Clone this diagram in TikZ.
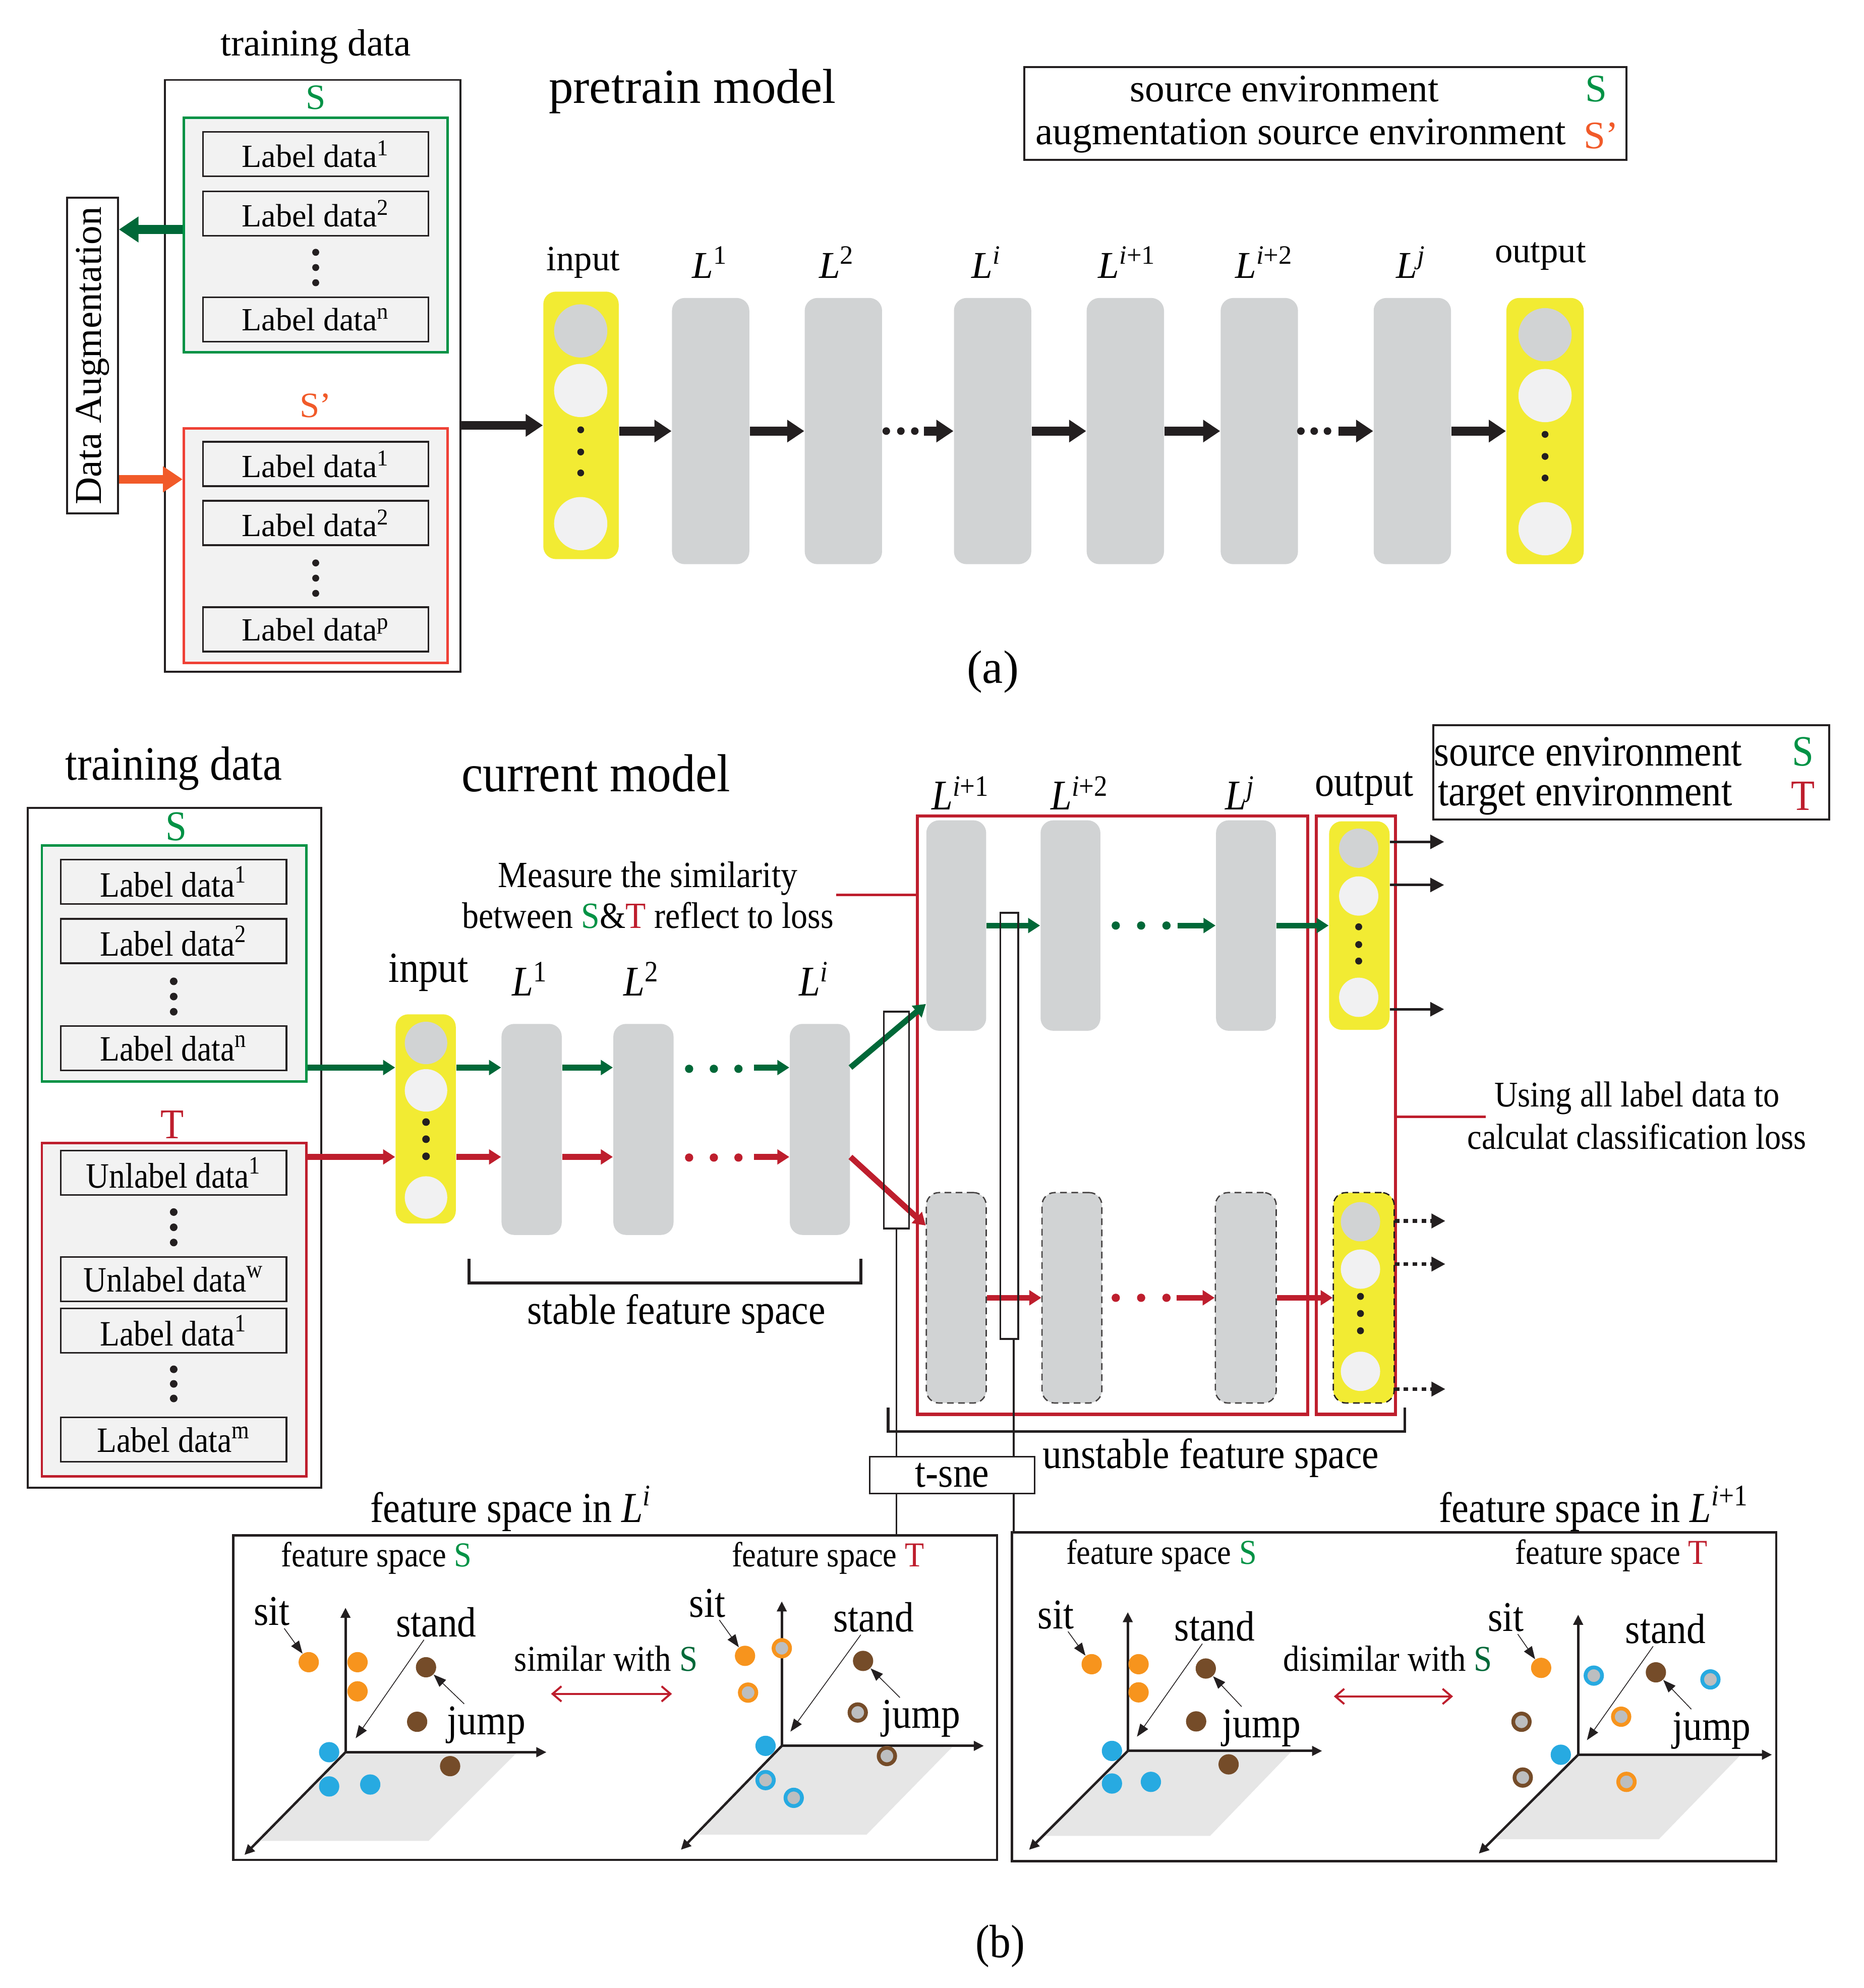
\documentclass[tikz,border=0pt]{standalone}
\usepackage{fontspec}
\setmainfont{Liberation Serif}
\newfontfamily\condfont[FakeStretch=0.9]{Liberation Serif}
\usepackage{tikz}
\usetikzlibrary{arrows.meta,positioning}

\definecolor{ink}{HTML}{231F20}
\definecolor{sgreen}{HTML}{009245}
\definecolor{dgreen}{HTML}{006838}
\definecolor{tred}{HTML}{BE1E2D}
\definecolor{sorange}{HTML}{F15A29}
\definecolor{boxred}{HTML}{EF4136}
\definecolor{layergray}{HTML}{D1D3D4}
\definecolor{cellwhite}{HTML}{F1F1F2}
\definecolor{boxfill}{HTML}{F2F2F2}
\definecolor{nnyellow}{HTML}{F2EB33}
\definecolor{dotorange}{HTML}{F7941D}
\definecolor{dotbrown}{HTML}{754C29}
\definecolor{dotblue}{HTML}{27AAE1}
\definecolor{ringgray}{HTML}{BCBEC0}
\definecolor{planegray}{HTML}{E6E6E6}

\begin{document}
\begin{tikzpicture}[
    x=0.02cm, y=-0.02cm,
    txta/.style={font=\fontsize{17}{20}\selectfont, inner sep=1pt},
    txtb/.style={font=\condfont\fontsize{19}{22}\selectfont, inner sep=1pt},
    outerbox/.style={draw=ink, line width=0.9pt, inner sep=0},
    grp/.style={draw=#1, fill=boxfill, line width=1.1pt, inner sep=0, minimum width=4.16cm},
    lbox/.style={draw=ink, fill=boxfill, line width=0.8pt, inner sep=0, minimum width=3.56cm, minimum height=0.70cm},
    lboxa/.style={lbox, font=\fontsize{14.5}{16}\selectfont},
    lboxb/.style={lbox, font=\condfont\fontsize{16}{18}\selectfont},
    nnlayer/.style={fill=layergray, rounded corners=0.2cm, inner sep=0},
    ghost/.style={nnlayer, draw=ink!85, densely dashed, line width=0.6pt},
    nncol/.style={fill=nnyellow, rounded corners=0.2cm, inner sep=0},
    unit/.style={circle, inner sep=0, minimum size=#1},
    bigarrow/.style={draw=ink, line width=4pt, -{Triangle[length=0.27cm, width=0.34cm]}},
    flow/.style={line width=2.6pt, -{Triangle[length=0.19cm, width=0.23cm]}},
    outarrow/.style={draw=ink, line width=1.2pt, -{Triangle[length=0.22cm, width=0.22cm]}},
    blob/.style={circle, fill=#1, inner sep=0, minimum size=0.32cm},
    ring/.style={circle, draw=#1, fill=ringgray, line width=1.7pt, inner sep=0, minimum size=0.26cm},
    plotaxis/.style={draw=ink, line width=1.1pt, -{Triangle[length=0.16cm, width=0.15cm]}},
    pointer/.style={draw=ink, line width=0.35pt, -{Triangle[length=0.2cm, width=0.15cm]}},
    plabel/.style={font=\condfont\fontsize{19}{22}\selectfont, inner sep=1pt},
    simarrow/.style={draw=tred, line width=0.9pt, {Straight Barb[length=0.14cm, width=0.24cm]}-{Straight Barb[length=0.14cm, width=0.24cm]}}
]
    \useasboundingbox (0,0) rectangle (1470,1568);

    % (a) training data
    \node[txta] (traina) at (249,37) {training data};
    \node[outerbox, minimum width=4.66cm, minimum height=9.34cm] (tda) at (246.5,296.5) {};
    \node[txta, text=sgreen, font=\fontsize{16}{18}\selectfont] (sa) at (249,77) {S};
    \node[grp=sgreen, minimum height=3.70cm] (srcA) at (249,185.5) {};
    \node[lboxa] (la1) at (249,121.5) {Label data\textsuperscript{1}};
    \node[lboxa] (la2) at (249,168.5) {Label data\textsuperscript{2}};
    \node[lboxa] (lan) at (249,252) {Label data\textsuperscript{n}};
    \foreach \y in {199,211,223} \fill[ink] (249,\y) circle[radius=0.055cm];
    \node[txta, text=sorange, font=\fontsize{16}{18}\selectfont] (spa) at (249,320) {S’};
    \node[grp=boxred, minimum height=3.70cm] (augS) at (249,430.5) {};
    \node[lboxa] (lp1) at (249,366) {Label data\textsuperscript{1}};
    \node[lboxa] (lp2) at (249,412.5) {Label data\textsuperscript{2}};
    \node[lboxa] (lpp) at (249,496.5) {Label data\textsuperscript{p}};
    \foreach \y in {444,456,468} \fill[ink] (249,\y) circle[radius=0.055cm];

    % data augmentation
    \node[outerbox, minimum width=0.8cm, minimum height=4.98cm] (aug) at (73,280.5) {};
    \node[txta, rotate=90] (augtxt) at (aug.center) {Data Augmentation};
    \draw[dgreen, line width=4pt, -{Triangle[length=0.31cm, width=0.39cm]}] ([yshift=0.09cm]srcA.west) -- ([yshift=0.09cm]srcA.west -| aug.east);
    \draw[sorange, line width=4pt, -{Triangle[length=0.31cm, width=0.39cm]}] ([yshift=-0.82cm]aug.east |- augS.north west) -- ([yshift=-0.82cm]augS.north west);

    % pretrain network
    \node[txta, font=\fontsize{22}{24}\selectfont] (pretrain) at (546,72) {pretrain model};
    \node[nncol, minimum width=1.19cm, minimum height=4.22cm] (ina) at (458.25,335.5) {};
    \node[unit=0.84cm, fill=layergray] (ina1) at (458,261) {};
    \node[unit=0.84cm, fill=cellwhite] (ina2) at (458,308) {};
    \node[unit=0.84cm, fill=cellwhite] (ina3) at (458,413) {};
    \foreach \y in {339,356.5,373} \fill[ink] (458,\y) circle[radius=0.054cm];
    \node[nnlayer, minimum width=1.22cm, minimum height=4.2cm] (l1a) at (560.5,340) {};
    \node[nnlayer, minimum width=1.22cm, minimum height=4.2cm, right=0.86cm of l1a] (l2a) {};
    \node[nnlayer, minimum width=1.22cm, minimum height=4.2cm, right=1.12cm of l2a] (lia) {};
    \node[nnlayer, minimum width=1.22cm, minimum height=4.2cm, right=0.86cm of lia] (li1a) {};
    \node[nnlayer, minimum width=1.22cm, minimum height=4.2cm, right=0.88cm of li1a] (li2a) {};
    \node[nnlayer, minimum width=1.22cm, minimum height=4.2cm, right=1.18cm of li2a] (lja) {};
    \node[nncol, minimum width=1.22cm, minimum height=4.2cm, right=0.86cm of lja] (outa) {};
    \node[unit=0.84cm, fill=layergray] (outa1) at (outa |- 0,264) {};
    \node[unit=0.84cm, fill=cellwhite] (outa2) at (outa |- 0,312) {};
    \node[unit=0.84cm, fill=cellwhite] (outa3) at (outa |- 0,417) {};
    \foreach \y in {342.6,360,377} \fill[ink] (outa |- 0,\y) circle[radius=0.054cm];

    \node[txta, font=\fontsize{16}{18}\selectfont] (inalab) at (460,207) {input};
    \node[txta, font=\fontsize{17}{19}\selectfont] (l1alab) at (560,207) {\textit{L}\textsuperscript{1}};
    \node[txta, font=\fontsize{17}{19}\selectfont] (l2alab) at (660,207) {\textit{L}\textsuperscript{2}};
    \node[txta, font=\fontsize{17}{19}\selectfont] (lialab) at (778,207) {\textit{L}\textsuperscript{\textit{i}}};
    \node[txta, font=\fontsize{17}{19}\selectfont] (li1alab) at (889,207) {\textit{L}\textsuperscript{\textit{i}+1}};
    \node[txta, font=\fontsize{17}{19}\selectfont] (li2alab) at (997,207) {\textit{L}\textsuperscript{\textit{i}+2}};
    \node[txta, font=\fontsize{17}{19}\selectfont] (ljalab) at (1113,207) {\textit{L}\textsuperscript{\textit{j}}};
    \node[txta, font=\fontsize{16}{18}\selectfont] (outalab) at (1215,202) {output};

    \draw[bigarrow] (tda.east |- ina.west) -- (ina.west);
    \draw[bigarrow] (ina.east |- l1a.west) -- (l1a.west);
    \draw[bigarrow] (l1a.east) -- (l2a.west);
    \foreach \x in {699,710.5,721.5} \fill[ink] (\x,340) circle[radius=0.06cm];
    \draw[bigarrow] ([xshift=-0.47cm]lia.west) -- (lia.west);
    \draw[bigarrow] (lia.east) -- (li1a.west);
    \draw[bigarrow] (li1a.east) -- (li2a.west);
    \foreach \x in {1026,1036.5,1047} \fill[ink] (\x,340) circle[radius=0.06cm];
    \draw[bigarrow] ([xshift=-0.55cm]lja.west) -- (lja.west);
    \draw[bigarrow] (lja.east) -- (outa.west);

    % legend (a)
    \node[outerbox, minimum width=9.5cm, minimum height=1.46cm] (lega) at (1045.5,89.5) {};
    \node[txta, font=\fontsize{17.5}{20}\selectfont] (srcenva) at (1013,70) {source environment};
    \node[txta, font=\fontsize{17.5}{20}\selectfont] (augenva) at (1026,107) {augmentation source environment};
    \node[txta, font=\fontsize{17.5}{20}\selectfont, text=sgreen] (legsa) at (1259,70) {S};
    \node[txta, font=\fontsize{17.5}{20}\selectfont, text=sorange] (legspa) at (1263,107) {S’};
    \node[txta, font=\fontsize{21}{24}\selectfont] (capa) at (783,530) {(a)};

    % (b) training data
    \node[txtb, font=\condfont\fontsize{21.5}{24}\selectfont] (trainb) at (137,606) {training data};
    \node[outerbox, minimum width=4.63cm, minimum height=10.73cm] (tdb) at (137.75,905.3) {};
    \node[txtb, text=sgreen] (sb) at (139,652) {S};
    \node[grp=sgreen, minimum width=4.17cm, minimum height=3.72cm] (srcB) at (137.25,760) {};
    \node[lboxb] (lb1) at (137,695.5) {Label data\textsuperscript{1}};
    \node[lboxb] (lb2) at (137,742.2) {Label data\textsuperscript{2}};
    \node[lboxb] (lbn) at (137,826.8) {Label data\textsuperscript{n}};
    \foreach \y in {774,786,798} \fill[ink] (137,\y) circle[radius=0.06cm];
    \node[txtb, text=tred] (tb) at (136,887) {T};
    \node[grp=tred, minimum width=4.17cm, minimum height=5.26cm] (tgtB) at (137.25,1033) {};
    \node[lboxb] (ub1) at (137,925) {Unlabel data\textsuperscript{1}};
    \node[lboxb] (ubw) at (137,1009) {Unlabel data\textsuperscript{w}};
    \node[lboxb] (lt1) at (137,1049.5) {Label data\textsuperscript{1}};
    \node[lboxb] (ltm) at (137,1135.5) {Label data\textsuperscript{m}};
    \foreach \y in {956,968,980,1080,1091.5,1103} \fill[ink] (137,\y) circle[radius=0.06cm];

    % current network, stable part
    \node[txtb, font=\condfont\fontsize{24}{26}\selectfont] (current) at (470,610) {current model};
    \coordinate (grow) at (0,842);
    \coordinate (rrow) at (0,912.5);
    \node[nncol, minimum width=0.95cm, minimum height=3.30cm] (inb) at (335.75,882.5) {};
    \node[unit=0.67cm, fill=layergray] (inb1) at (336,822.6) {};
    \node[unit=0.67cm, fill=cellwhite] (inb2) at (336,860) {};
    \node[unit=0.67cm, fill=cellwhite] (inb3) at (336,944.5) {};
    \foreach \y in {885,898.5,912} \fill[ink] (336,\y) circle[radius=0.06cm];
    \node[nnlayer, minimum width=0.95cm, minimum height=3.33cm] (l1b) at (419.3,890.8) {};
    \node[nnlayer, minimum width=0.95cm, minimum height=3.33cm, right=0.8cm of l1b] (l2b) {};
    \node[nnlayer, minimum width=0.95cm, minimum height=3.33cm, right=1.82cm of l2b] (lib) {};
    \node[txtb, font=\condfont\fontsize{19.3}{22}\selectfont] (inblab) at (338,767) {input};
    \node[txtb] (l1blab) at (418,772) {\textit{L}\textsuperscript{1}};
    \node[txtb] (l2blab) at (506,772) {\textit{L}\textsuperscript{2}};
    \node[txtb] (liblab) at (642,772) {\textit{L}\textsuperscript{\textit{i}}};

    \draw[flow, dgreen] (srcB.east |- grow) -- (inb.west |- grow);
    \draw[flow, tred] (tgtB.east |- rrow) -- (inb.west |- rrow);
    \draw[flow, dgreen] (inb.east |- grow) -- (l1b.west |- grow);
    \draw[flow, tred] (inb.east |- rrow) -- (l1b.west |- rrow);
    \draw[flow, dgreen] (l1b.east |- grow) -- (l2b.west |- grow);
    \draw[flow, tred] (l1b.east |- rrow) -- (l2b.west |- rrow);
    \foreach \x in {543.5,563,582.4} {
        \fill[dgreen] (\x,843) circle[radius=0.065cm];
        \fill[tred] (\x,913) circle[radius=0.065cm];
    }
    \draw[flow, dgreen] ([xshift=-0.56cm]lib.west |- grow) -- (lib.west |- grow);
    \draw[flow, tred] ([xshift=-0.56cm]lib.west |- rrow) -- (lib.west |- rrow);

    \draw[ink, line width=1.3pt] (370,993) -- (370,1012) -- (679,1012) -- (679,993);
    \node[txtb] (stable) at (533.5,1036) {stable feature space};

    \node[txtb, align=center, font=\condfont\fontsize{16.6}{18.2}\selectfont] (measure) at (511,706) {Measure the similarity\\between \textcolor{sgreen}{S}\&\textcolor{tred}{T} reflect to loss};

    % unstable part
    \node[draw=tred, line width=1.4pt, inner sep=0, minimum width=6.16cm, minimum height=9.44cm] (stackR) at (877.55,879.55) {};
    \node[draw=tred, line width=1.4pt, inner sep=0, minimum width=1.25cm, minimum height=9.44cm] (outR) at (1069.25,879.55) {};
    \draw[tred, line width=1.1pt] (measure.east) -- (stackR.west |- measure.east);

    \node[nnlayer, minimum width=0.944cm, minimum height=3.32cm] (li1u) at (754.2,730) {};
    \node[nnlayer, minimum width=0.944cm, minimum height=3.32cm, right=0.844cm of li1u] (li2u) {};
    \node[nnlayer, minimum width=0.944cm, minimum height=3.32cm, right=1.81cm of li2u] (lju) {};
    \node[nncol, minimum width=0.954cm, minimum height=3.29cm, right=0.826cm of lju] (outu) {};
    \node[unit=0.62cm, fill=layergray] (outu1) at (1071.6,669) {};
    \node[unit=0.62cm, fill=cellwhite] (outu2) at (1071.6,706.7) {};
    \node[unit=0.62cm, fill=cellwhite] (outu3) at (1071.6,786.6) {};
    \foreach \y in {731,745,758} \fill[ink] (1071.6,\y) circle[radius=0.055cm];

    \node[ghost, minimum width=0.944cm, minimum height=3.32cm] (li1l) at (754.2,1023.6) {};
    \node[ghost, minimum width=0.944cm, minimum height=3.32cm, right=0.86cm of li1l] (li2l) {};
    \node[ghost, minimum width=0.96cm, minimum height=3.32cm, right=1.77cm of li2l] (ljl) {};
    \node[nncol, draw=ink, densely dashed, line width=0.6pt, minimum width=0.96cm, minimum height=3.32cm, right=0.88cm of ljl] (outl) {};
    \node[unit=0.62cm, fill=layergray] (outl1) at (1073,963.6) {};
    \node[unit=0.62cm, fill=cellwhite] (outl2) at (1073,1001) {};
    \node[unit=0.62cm, fill=cellwhite] (outl3) at (1073,1081.6) {};
    \foreach \y in {1022.5,1036,1049.6} \fill[ink] (1073,\y) circle[radius=0.055cm];

    \node[txtb] (li1blab) at (757.6,625.5) {\textit{L}\textsuperscript{\textit{i}+1}};
    \node[txtb] (li2blab) at (851.5,625.5) {\textit{L}\textsuperscript{\textit{i}+2}};
    \node[txtb] (ljblab) at (978,625.5) {\textit{L}\textsuperscript{\textit{j}}};
    \node[txtb, font=\condfont\fontsize{19.2}{22}\selectfont] (outblab) at (1076,622) {output};

    \draw[flow, dgreen] (lib.east |- grow) -- ([yshift=0.43cm]li1u.south west);
    \draw[flow, tred] (lib.east |- rrow) -- ([yshift=-0.53cm]li1l.north west);
    \draw[flow, dgreen] (li1u.east) -- (li2u.west);
    \draw[flow, tred] (li1l.east) -- (li2l.west);
    \foreach \x in {880,900,920} {
        \fill[dgreen] (\x,730) circle[radius=0.065cm];
        \fill[tred] (\x,1023.6) circle[radius=0.065cm];
    }
    \draw[flow, dgreen] ([xshift=-0.6cm]lju.west) -- (lju.west);
    \draw[flow, tred] ([xshift=-0.6cm]ljl.west) -- (ljl.west);
    \draw[flow, dgreen] (lju.east) -- (outu.west);
    \draw[flow, tred] (ljl.east) -- (outl.west);

    % class outputs
    \coordinate (oa) at (1139,664);
    \coordinate (ob) at (1139,698);
    \coordinate (oc) at (1139,796);
    \coordinate (pa) at (1140,963);
    \coordinate (pb) at (1140,997);
    \coordinate (pc) at (1140,1095.6);
    \draw[outarrow] (outu.east |- oa) -- (oa);
    \draw[outarrow] (outu.east |- ob) -- (ob);
    \draw[outarrow] (outu.east |- oc) -- (oc);
    \draw[outarrow, line width=1.7pt, dash pattern=on 2pt off 2pt] (outl.east |- pa) -- (pa);
    \draw[outarrow, line width=1.7pt, dash pattern=on 2pt off 2pt] (outl.east |- pb) -- (pb);
    \draw[outarrow, line width=1.7pt, dash pattern=on 2pt off 2pt] (outl.east |- pc) -- (pc);

    \node[txtb, align=center, font=\condfont\fontsize{16.2}{19}\selectfont] (clsloss) at (1291,880) {Using all label data to\\calculat classification loss};
    \coordinate (clsend) at (1172,881);
    \draw[tred, line width=1.1pt] (outR.east |- clsend) -- (clsend);

    % legend (b)
    \node[outerbox, minimum width=6.24cm, minimum height=1.49cm] (legb) at (1286.55,609.25) {};
    \node[txtb, anchor=west, font=\condfont\fontsize{19.4}{22}\selectfont] (srcenvb) at (1129,593) {source environment};
    \node[txtb, anchor=west, font=\condfont\fontsize{19.4}{22}\selectfont] (tgtenvb) at (1132,628) {target environment};
    \node[txtb, text=sgreen, font=\condfont\fontsize{19.4}{22}\selectfont] (legsb) at (1422,593) {S};
    \node[txtb, text=tred, font=\condfont\fontsize{19.4}{22}\selectfont] (legtb) at (1422,628) {T};

    % t-sne probes
    \node[draw=ink, line width=0.8pt, inner sep=0, minimum width=0.40cm, minimum height=3.42cm] (probeA) at (707,883.5) {};
    \node[draw=ink, line width=0.8pt, inner sep=0, minimum width=0.28cm, minimum height=6.72cm] (probeB) at (796,888) {};
    \draw[ink, line width=1.3pt] (700.6,1110) -- (700.6,1129) -- (1108,1129) -- (1108,1110);
    \node[txtb] (unstable) at (955,1150) {unstable feature space};
    \node[outerbox, line width=0.8pt, minimum width=2.6cm, minimum height=0.58cm, txtb] (tsne) at (751,1163.5) {t-sne};

    % feature spaces
    \node[outerbox, line width=1pt, minimum width=12.05cm, minimum height=5.12cm] (fs1) at (485.15,1339) {};
    \node[outerbox, line width=1pt, minimum width=12.06cm, minimum height=5.19cm] (fs2) at (1099.5,1338.25) {};
    \draw[ink, line width=0.7pt] (probeA.south) -- (tsne.north -| probeA.south);
    \draw[ink, line width=0.7pt] (tsne.south -| probeA.south) -- (fs1.north -| probeA.south);
    \draw[ink, line width=0.7pt] ([xshift=0.07cm]probeB.south) -- ([xshift=0.07cm]tsne.north -| probeB.south);
    \draw[ink, line width=0.7pt] ([xshift=0.07cm]tsne.south -| probeB.south) -- ([xshift=0.07cm]fs2.north -| probeB.south);
    \node[txtb, font=\condfont\fontsize{19.2}{22}\selectfont] (fs1lab) at (403,1190) {feature space in \textit{L}\textsuperscript{\textit{i}}};
    \node[txtb, font=\condfont\fontsize{19.2}{22}\selectfont] (fs2lab) at (1257,1190) {feature space in \textit{L}\textsuperscript{\textit{i}+1}};
    \node[txtb, font=\condfont\fontsize{15.7}{18}\selectfont] (fs1s) at (297,1229) {feature space \textcolor{sgreen}{S}};
    \node[txtb, font=\condfont\fontsize{15.7}{18}\selectfont] (fs1t) at (653,1229) {feature space \textcolor{tred}{T}};
    \node[txtb, font=\condfont\fontsize{15.7}{18}\selectfont] (fs2s) at (916,1227) {feature space \textcolor{sgreen}{S}};
    \node[txtb, font=\condfont\fontsize{15.7}{18}\selectfont] (fs2t) at (1271,1227) {feature space \textcolor{tred}{T}};

    % planes and axes
    \fill[planegray] (272.5,1382) -- (407,1383) -- (338,1452) -- (202.5,1452) -- cycle;
    \fill[planegray] (616.6,1377) -- (751,1378) -- (683.5,1447) -- (550.6,1447) -- cycle;
    \fill[planegray] (889.5,1381) -- (1019,1381) -- (954.4,1448) -- (824,1448) -- cycle;
    \fill[planegray] (1244.7,1384) -- (1373,1384) -- (1308.4,1450.6) -- (1179.6,1450.6) -- cycle;
    \draw[plotaxis] (272.5,1382) -- (272.5,1268);
    \draw[plotaxis] (272.5,1382) -- (431,1382);
    \draw[plotaxis] (272.5,1382) -- (192.8,1463);
    \draw[plotaxis] (616.6,1377) -- (616.6,1263);
    \draw[plotaxis] (616.6,1377) -- (776,1377);
    \draw[plotaxis] (616.6,1377) -- (537,1459);
    \draw[plotaxis] (889.5,1381) -- (889.5,1271.5);
    \draw[plotaxis] (889.5,1381) -- (1042.8,1381);
    \draw[plotaxis] (889.5,1381) -- (811.6,1459);
    \draw[plotaxis] (1244.7,1384) -- (1244.7,1273.5);
    \draw[plotaxis] (1244.7,1384) -- (1397.6,1384);
    \draw[plotaxis] (1244.7,1384) -- (1166.3,1462);

    % plot 1: S in L^i
    \node[blob=dotorange] (p1o1) at (243.5,1311) {};
    \node[blob=dotorange] (p1o2) at (282,1311) {};
    \node[blob=dotorange] (p1o3) at (282,1334) {};
    \node[blob=dotbrown] (p1b1) at (336,1315) {};
    \node[blob=dotbrown] (p1b2) at (329,1358) {};
    \node[blob=dotbrown] (p1b3) at (355,1393) {};
    \node[blob=dotblue] (p1c1) at (259.6,1382) {};
    \node[blob=dotblue] (p1c2) at (259.6,1409) {};
    \node[blob=dotblue] (p1c3) at (292,1407.5) {};
    \node[plabel] (p1sit) at (214.5,1271) {sit};
    \node[plabel] (p1stand) at (344,1279.5) {stand};
    \node[plabel] (p1jump) at (383.5,1360.6) {jump};
    \coordinate (p1st) at (280.5,1371);
    \draw[pointer] (p1sit) -- (p1o1);
    \draw[pointer] (p1stand) -- (p1st);
    \draw[pointer] (p1jump) -- (p1b1);

    % plot 2: T in L^i
    \node[blob=dotorange] (p2o1) at (587.6,1306) {};
    \node[ring=dotorange] (p2o2) at (616.6,1300) {};
    \node[ring=dotorange] (p2o3) at (590,1335) {};
    \node[blob=dotbrown] (p2b1) at (680.7,1310) {};
    \node[ring=dotbrown] (p2b2) at (676.5,1350.7) {};
    \node[ring=dotbrown] (p2b3) at (699.5,1385) {};
    \node[blob=dotblue] (p2c1) at (603.8,1377) {};
    \node[ring=dotblue] (p2c2) at (603.8,1404) {};
    \node[ring=dotblue] (p2c3) at (626,1418) {};
    \node[plabel] (p2sit) at (557.8,1264.4) {sit};
    \node[plabel] (p2stand) at (689,1275.5) {stand};
    \node[plabel] (p2jump) at (726.5,1355.6) {jump};
    \coordinate (p2st) at (623.4,1365.8);
    \draw[pointer] (p2sit) -- (p2o1);
    \draw[pointer] (p2stand) -- (p2st);
    \draw[pointer] (p2jump) -- (p2b1);

    \node[txtb, font=\condfont\fontsize{16.3}{18}\selectfont] (similar) at (478,1308) {similar with \textcolor{dgreen}{S}};
    \coordinate (simA) at (434.6,1336);
    \coordinate (simB) at (530,1336);
    \draw[simarrow] (simA) -- (simB);

    % plot 3: S in L^{i+1}
    \node[blob=dotorange] (p3o1) at (861,1312.6) {};
    \node[blob=dotorange] (p3o2) at (898,1312.6) {};
    \node[blob=dotorange] (p3o3) at (898,1334.8) {};
    \node[blob=dotbrown] (p3b1) at (951,1316) {};
    \node[blob=dotbrown] (p3b2) at (943.4,1357.7) {};
    \node[blob=dotbrown] (p3b3) at (969,1391.6) {};
    \node[blob=dotblue] (p3c1) at (877,1381) {};
    \node[blob=dotblue] (p3c2) at (877,1406.7) {};
    \node[blob=dotblue] (p3c3) at (907.7,1405.4) {};
    \node[plabel] (p3sit) at (832.7,1273.5) {sit};
    \node[plabel] (p3stand) at (958,1282.6) {stand};
    \node[plabel] (p3jump) at (995,1362.8) {jump};
    \coordinate (p3st) at (896.7,1369.8);
    \draw[pointer] (p3sit) -- (p3o1);
    \draw[pointer] (p3stand) -- (p3st);
    \draw[pointer] (p3jump) -- (p3b1);

    % plot 4: T in L^{i+1}
    \node[blob=dotorange] (p4o1) at (1215.5,1315.5) {};
    \node[ring=dotorange] (p4o2) at (1278.6,1354) {};
    \node[ring=dotorange] (p4o3) at (1282.8,1405.4) {};
    \node[blob=dotbrown] (p4b1) at (1306,1319) {};
    \node[ring=dotbrown] (p4b2) at (1200,1358) {};
    \node[ring=dotbrown] (p4b3) at (1201,1402) {};
    \node[blob=dotblue] (p4c1) at (1231,1384) {};
    \node[ring=dotblue] (p4c2) at (1257,1321.6) {};
    \node[ring=dotblue] (p4c3) at (1349,1324.6) {};
    \node[plabel] (p4sit) at (1187.8,1275.5) {sit};
    \node[plabel] (p4stand) at (1313.6,1284.6) {stand};
    \node[plabel] (p4jump) at (1350,1364.8) {jump};
    \coordinate (p4st) at (1251.6,1372.5);
    \draw[pointer] (p4sit) -- (p4o1);
    \draw[pointer] (p4stand) -- (p4st);
    \draw[pointer] (p4jump) -- (p4b1);

    \node[txtb, font=\condfont\fontsize{16.3}{18}\selectfont] (disimilar) at (1094.5,1308) {disimilar with \textcolor{dgreen}{S}};
    \coordinate (disA) at (1052,1338);
    \coordinate (disB) at (1146,1338);
    \draw[simarrow] (disA) -- (disB);

    \node[txtb, font=\condfont\fontsize{21}{24}\selectfont] (capb) at (789,1535) {(b)};
\end{tikzpicture}
\end{document}
